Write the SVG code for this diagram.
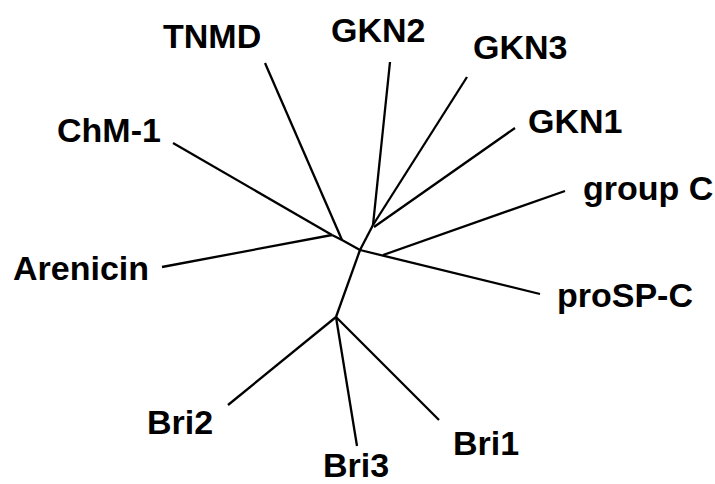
<svg xmlns="http://www.w3.org/2000/svg" width="715" height="484" viewBox="0 0 715 484">
  <style>
    .lbl { font-family: "Liberation Sans", Arial, sans-serif; font-weight: bold; font-size: 34px; fill: #000; }
    .edge { stroke: #000; stroke-width: 2.3; fill: none; stroke-linecap: butt; stroke-linejoin: round; }
  </style>
  <rect width="715" height="484" fill="#fff"/>

  <!-- tree branches -->
  <g id="connectors">
    <!-- internal branches -->
    <path class="edge" d="M332,235 L342,240 L360,250"/>
    <path class="edge" d="M360,250 L373,225"/>
    <path class="edge" d="M360,250 L336,317"/>
    <!-- leaves -->
    <path class="edge" d="M265,63 L342,240"/>
    <path class="edge" d="M173,143 L332,235"/>
    <path class="edge" d="M162,267 L332,235"/>
    <path class="edge" d="M390,62 L373,225"/>
    <path class="edge" d="M467,77 L373,225"/>
    <path class="edge" d="M515,128 L374,227"/>
    <path class="edge" d="M360,250 L540,294"/>
    <path class="edge" d="M565,191 L383,255"/>
    <path class="edge" d="M336,317 L228,405"/>
    <path class="edge" d="M336,317 L357,446"/>
    <path class="edge" d="M336,317 L439,420"/>
  </g>

  <g id="TNMD"><text class="lbl" x="163" y="48">TNMD</text></g>
  <g id="GKN2"><text class="lbl" x="331" y="42">GKN2</text></g>
  <g id="GKN3"><text class="lbl" x="473" y="59">GKN3</text></g>
  <g id="GKN1"><text class="lbl" x="528" y="133">GKN1</text></g>
  <g id="groupC"><text class="lbl" x="583" y="200">group C</text></g>
  <g id="proSP-C"><text class="lbl" x="557" y="307">proSP-C</text></g>
  <g id="ChM-1"><text class="lbl" x="57" y="142">ChM-1</text></g>
  <g id="Arenicin"><text class="lbl" x="13" y="280">Arenicin</text></g>
  <g id="Bri2"><text class="lbl" x="147" y="434">Bri2</text></g>
  <g id="Bri3"><text class="lbl" x="323" y="477">Bri3</text></g>
  <g id="Bri1"><text class="lbl" x="453" y="455">Bri1</text></g>
</svg>
